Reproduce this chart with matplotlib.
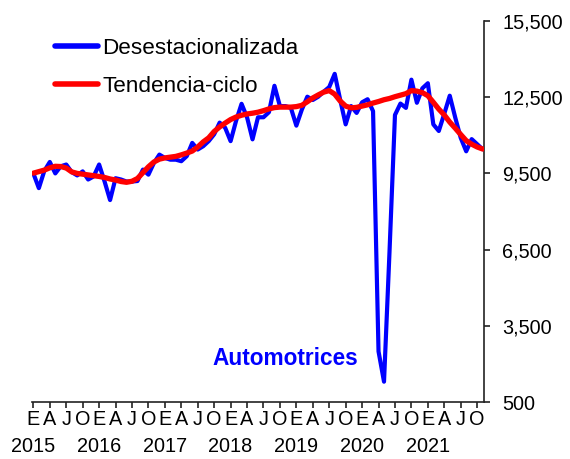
import matplotlib
matplotlib.use("Agg")
import matplotlib.pyplot as plt
from matplotlib.ticker import FuncFormatter

plt.rcParams['font.family'] = ['Liberation Sans', 'DejaVu Sans']

# Monthly data, Jan 2015 - Nov 2021
desestacionalizada = [
    9500, 8920, 9600, 9950, 9500, 9780, 9850, 9550, 9420, 9580, 9260, 9380,   # 2015
    9850, 9180, 8450, 9310, 9260, 9180, 9180, 9200, 9650, 9450, 9910, 10240,  # 2016
    10110, 10040, 10040, 9980, 10180, 10700, 10440, 10570, 10770, 11040, 11500, 11300,  # 2017
    10770, 11570, 12240, 11710, 10840, 11710, 11710, 11910, 12950, 12150, 12150, 12080,  # 2018
    11380, 12010, 12520, 12390, 12520, 12720, 12900, 13420, 12400, 11430, 12150, 11880,  # 2019
    12300, 12420, 11950, 2490, 1300, 6400, 11800, 12250, 12080, 13190, 12280, 12850,  # 2020
    13050, 11430, 11170, 11850, 12560, 11700, 10900, 10370, 10850, 10650, 10450,  # 2021
]
tendencia_ciclo = [
    9510, 9570, 9630, 9720, 9780, 9770, 9710, 9560, 9500, 9470, 9440, 9410,
    9380, 9340, 9280, 9240, 9180, 9150, 9190, 9300, 9530, 9760, 9950, 10060,
    10110, 10140, 10170, 10230, 10300, 10380, 10540, 10740, 10900, 11150, 11330, 11480,
    11620, 11720, 11790, 11840, 11870, 11910, 11970, 12040, 12090, 12110, 12110, 12110,
    12130, 12180, 12320, 12470, 12590, 12700, 12760, 12620, 12350, 12150, 12080, 12100,
    12150, 12200, 12270, 12330, 12400, 12450, 12520, 12580, 12640, 12760, 12740, 12680,
    12560, 12300, 12030, 11800, 11520, 11280, 11030, 10790, 10650, 10540, 10460,
]
month_labels = ['E', 'A', 'J', 'O']
years = ['2015', '2016', '2017', '2018', '2019', '2020', '2021']
y_ticks = [500, 3500, 6500, 9500, 12500, 15500]

months = list(range(len(desestacionalizada)))

fig = plt.figure(figsize=(5.70, 4.59), dpi=100)
ax = fig.add_axes([32/570, 1 - 402/459, 452/570, (402 - 21)/459])

ax.plot(months, desestacionalizada, color='#0000FF', lw=3.0, label='Desestacionalizada',
        solid_joinstyle='round', solid_capstyle='round', zorder=2)
ax.plot(months, tendencia_ciclo, color='#FF0000', lw=3.8, label='Tendencia-ciclo',
        solid_joinstyle='round', solid_capstyle='round', zorder=3)

ax.set_xlim(-0.25, 82.25)
ax.set_ylim(y_ticks[0], y_ticks[-1])

ax.spines['left'].set_visible(False)
ax.spines['top'].set_visible(False)
for s in ('right', 'bottom'):
    ax.spines[s].set_linewidth(1.2)
    ax.spines[s].set_color('#222222')

ax.yaxis.tick_right()
ax.set_yticks(y_ticks)
ax.yaxis.set_major_formatter(FuncFormatter(lambda v, p: f"{int(v):,}"))
ax.tick_params(axis='y', direction='out', length=4, width=1.2, pad=9, labelsize=14.3,
               colors='#222222', labelcolor='black')

xt = list(range(0, len(months), 3))
ax.set_xticks(xt)
ax.set_xticklabels([month_labels[i % 4] for i in range(len(xt))])
ax.tick_params(axis='x', direction='out', length=4, width=1.2, pad=2, labelsize=14.3,
               colors='#222222', labelcolor='black')

for i, yr in enumerate(years):
    ax.annotate(yr, xy=(12 * i, 0), xycoords=('data', 'axes fraction'),
                xytext=(0, -32), textcoords='offset points',
                ha='center', va='center', fontsize=14.3)

ax.text(0.56, 0.115, 'Automotrices', transform=ax.transAxes, color='#0000FF',
        fontsize=16.3, fontweight='bold', ha='center', va='center')

leg = ax.legend(loc='center left', bbox_to_anchor=(55/570, 1 - 67.5/459),
                bbox_transform=fig.transFigure, frameon=False, fontsize=16.2,
                handlelength=1.9, handletextpad=0.2, labelspacing=0.75,
                borderpad=0, borderaxespad=0)
for h in leg.get_lines():
    h.set_linewidth(4.0)

fig.savefig('out.png', dpi=100)
